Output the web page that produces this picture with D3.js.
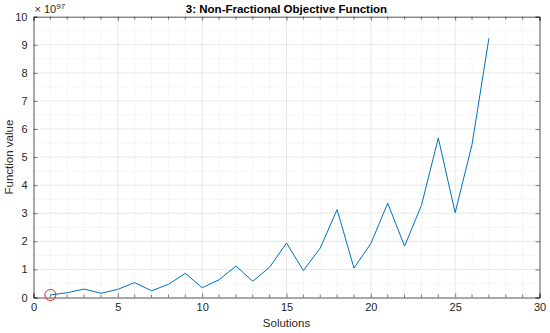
<!DOCTYPE html>
<html>
<head>
<meta charset="utf-8">
<script src="https://cdn.jsdelivr.net/npm/d3@7"></script>
<style>
  body { margin: 0; background: #fff; }
  svg { font-family: "Liberation Sans", Arial, sans-serif; }
</style>
</head>
<body>
<svg id="chart" width="550" height="333"></svg>
<script>
// values in units of 1e97
var solutions = d3.range(1, 28);
var values = [0.09, 0.17, 0.30, 0.15, 0.29, 0.53, 0.24, 0.47, 0.86, 0.35,
              0.63, 1.12, 0.58, 1.08, 1.94, 0.96, 1.76, 3.13, 1.05, 1.92,
              3.36, 1.83, 3.28, 5.68, 3.02, 5.45, 9.23];
var xTicks = [0, 5, 10, 15, 20, 25, 30];
var yTicks = [0, 1, 2, 3, 4, 5, 6, 7, 8, 9, 10];
var highlight = 0;   // index of circled solution

var svg = d3.select("#chart");
var m = {left: 33.5, right: 539.5, top: 16.7, bottom: 297.5};

var x = d3.scaleLinear().domain([0, 30]).range([m.left, m.right]);
var y = d3.scaleLinear().domain([0, 10]).range([m.bottom, m.top]);

var axisColor = "#262626";
var g = svg.append("g");

// minor grid
g.selectAll(".xminor").data(d3.range(0, 31).filter(function(d){ return d % 5; }))
  .enter().append("line")
    .attr("x1", function(d){ return x(d); }).attr("x2", function(d){ return x(d); })
    .attr("y1", m.top).attr("y2", m.bottom)
    .attr("stroke", "#d4d4d4").attr("stroke-width", 0.6).attr("stroke-dasharray", "1,2");
g.selectAll(".yminor").data(d3.range(0.5, 10, 1))
  .enter().append("line")
    .attr("x1", m.left).attr("x2", m.right)
    .attr("y1", function(d){ return y(d); }).attr("y2", function(d){ return y(d); })
    .attr("stroke", "#d4d4d4").attr("stroke-width", 0.6).attr("stroke-dasharray", "1,2");

// major grid
g.selectAll(".xgrid").data(xTicks.slice(1, -1))
  .enter().append("line")
    .attr("x1", function(d){ return x(d); }).attr("x2", function(d){ return x(d); })
    .attr("y1", m.top).attr("y2", m.bottom)
    .attr("stroke", "#dedede").attr("stroke-width", 0.7);
g.selectAll(".ygrid").data(yTicks.slice(1, -1))
  .enter().append("line")
    .attr("x1", m.left).attr("x2", m.right)
    .attr("y1", function(d){ return y(d); }).attr("y2", function(d){ return y(d); })
    .attr("stroke", "#dedede").attr("stroke-width", 0.7);

// axes
var xAxis = d3.axisBottom(x).tickValues(xTicks).tickSize(-4).tickPadding(6);
var yAxis = d3.axisLeft(y).tickValues(yTicks).tickSize(-4).tickPadding(6);

var gx = g.append("g").attr("transform", "translate(0," + m.bottom + ")").call(xAxis);
var gy = g.append("g").attr("transform", "translate(" + m.left + ",0)").call(yAxis);
var gxt = g.append("g").attr("transform", "translate(0," + m.top + ")")
  .call(d3.axisTop(x).tickValues(xTicks).tickSize(-4).tickFormat(""));
var gyr = g.append("g").attr("transform", "translate(" + m.right + ",0)")
  .call(d3.axisRight(y).tickValues(yTicks).tickSize(-4).tickFormat(""));

// minor x ticks at each integer
[[m.bottom, -3], [m.top, 3]].forEach(function(p){
  g.selectAll(null).data(d3.range(0, 31).filter(function(d){ return d % 5; }))
    .enter().append("line")
      .attr("x1", function(d){ return x(d); }).attr("x2", function(d){ return x(d); })
      .attr("y1", p[0]).attr("y2", p[0] + p[1])
      .attr("stroke", axisColor).attr("stroke-width", 0.6);
});

[gx, gy, gxt, gyr].forEach(function(a){
  a.select(".domain").attr("stroke", axisColor).attr("stroke-width", 0.8);
  a.selectAll(".tick line").attr("stroke", axisColor).attr("stroke-width", 0.6);
  a.selectAll(".tick text").attr("fill", axisColor).style("font-size", "11px");
});

// data line
var line = d3.line()
  .x(function(d, i){ return x(solutions[i]); })
  .y(function(d){ return y(d); });

g.append("path").datum(values)
  .attr("d", line)
  .attr("fill", "none")
  .attr("stroke", "#0072BD")
  .attr("stroke-width", 1);

g.append("circle")
  .attr("cx", x(solutions[highlight]))
  .attr("cy", y(values[highlight]))
  .attr("r", 5.5)
  .attr("fill", "none")
  .attr("stroke", "#ff0000")
  .attr("stroke-width", 0.9);

// exponent
var ex = g.append("text").attr("x", m.left + 1).attr("y", 13)
  .attr("fill", axisColor).style("font-size", "11px");
ex.append("tspan").text("\u00d7 10");
ex.append("tspan").attr("dy", -4).style("font-size", "8px").text("97");

// title and labels
g.append("text")
  .attr("x", (m.left + m.right) / 2).attr("y", 13)
  .attr("text-anchor", "middle")
  .attr("fill", "#000")
  .style("font-size", "11.5px").style("font-weight", "bold")
  .text("3: Non-Fractional Objective Function");

g.append("text")
  .attr("x", (m.left + m.right) / 2).attr("y", 327)
  .attr("text-anchor", "middle")
  .attr("fill", axisColor)
  .style("font-size", "11.5px")
  .text("Solutions");

g.append("text")
  .attr("transform", "translate(13," + ((m.top + m.bottom) / 2) + ") rotate(-90)")
  .attr("text-anchor", "middle")
  .attr("fill", axisColor)
  .style("font-size", "11.5px")
  .text("Function value");
</script>
</body>
</html>
